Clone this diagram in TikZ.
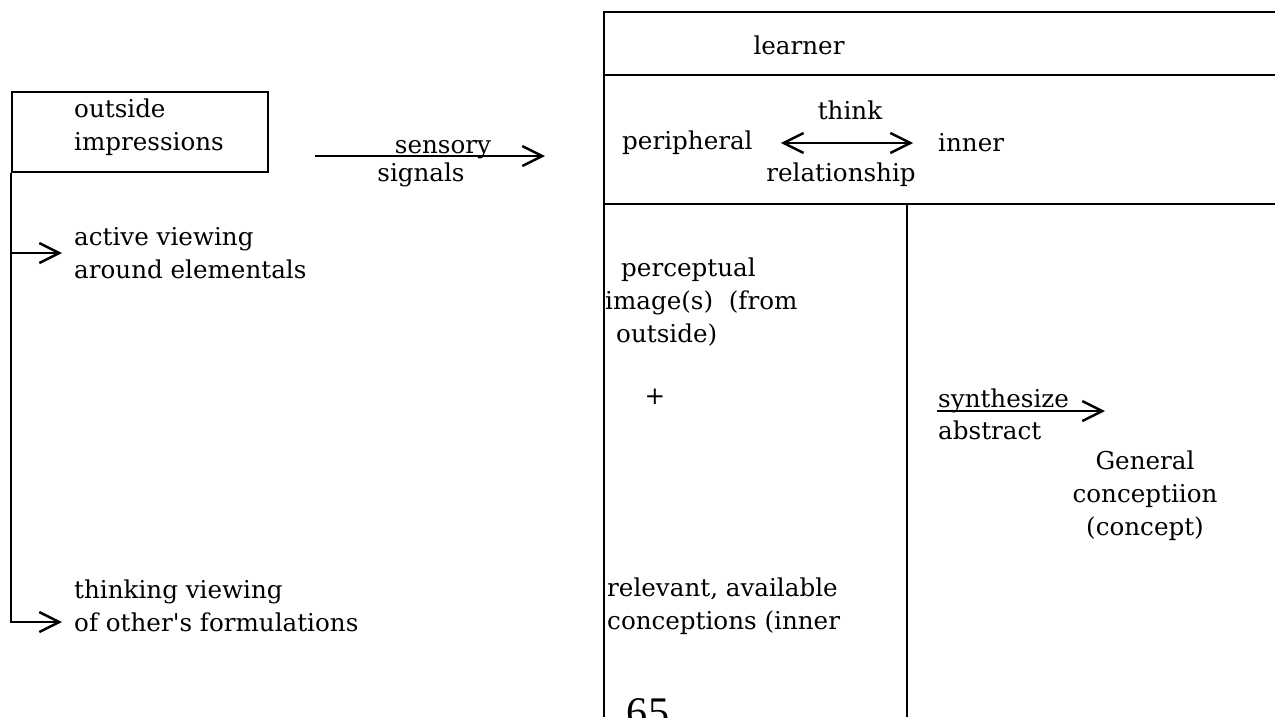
\documentclass[tikz,border=0pt]{standalone}
\usepackage{fontspec}
\setmainfont{DejaVu Serif}
\newfontfamily\pagefont{Liberation Serif}
\usetikzlibrary{arrows.meta}
\tikzset{
  txt/.style={font=\fontsize{14}{18.7}\selectfont, inner sep=0pt},
}

\begin{document}
\begin{tikzpicture}[x=0.02cm,y=-0.02cm,line width=1.4pt,
    >={Straight Barb[length=4mm,width=4mm]}]
     \useasboundingbox (0,0) rectangle (1275,717);

     % outside
     \node[draw,minimum width=5.12cm,minimum height=1.6cm,inner sep=0pt] (outbox) at (140,132) {};
     \node[txt,align=left,anchor=west] (outtxt) at (73,127) {outside\\impressions};

     \node[txt,align=left,anchor=west] (active) at (73,253) {active viewing\\around elementals};
     \node[txt,align=left,anchor=west] (thinking) at (73,606) {thinking viewing\\of other\textquotesingle s formulations};

     \coordinate (activeend) at (62,253);
     \coordinate (thinkingend) at (62,622);
     \draw[->] (outbox.south west) |- (thinkingend);
     \draw[->] (outbox.south west |- activeend) -- (activeend);

     % sensory signals
     \coordinate (sensfrom) at (315,156);
     \coordinate (sensto) at (545,156);
     \draw[->] (sensfrom) -- (sensto);
     \node[txt,anchor=base] (sensory) at (443,153) {sensory};
     \node[txt] (signals) at (421,175) {signals};

     % learner
     \draw (1275,12) -- (604,12) -- (604,717);
     \draw (604,75) -- (1275,75);
     \draw (604,204) -- (1275,204);
     \draw (907,204) -- (907,717);

     \node[txt] (learner) at (799,45) {learner};

     \node[txt,anchor=west] (peri) at (621,143) {peripheral};
     \node[txt,anchor=west] (inner) at (937,143) {inner};
     \draw[<->,shorten <=0.54cm,shorten >=0.48cm] (peri) -- (inner);
     \node[txt] (think) at (850,110) {think};
     \node[txt] (relation) at (841,175) {relationship};

     \node[txt,align=left,anchor=west] (percept) at (604,302)
         {\hspace*{0.32cm}perceptual\\image(s)\ \ (from\\\hspace*{0.22cm}outside)};
     \node[txt] (plus) at (655,397) {+};
     \node[txt,align=left,anchor=west] (relevant) at (606,606)
         {relevant, available\\conceptions (inner};

     \node[txt,anchor=base west] (synth) at (937,407) {synthesize};
     \node[txt,anchor=west] (abstr) at (937,430) {abstract};
     \coordinate (synfrom) at (937,411);
     \coordinate (synto) at (1105,411);
     \draw[->] (synfrom) -- (synto);

     \node[txt,align=center] (general) at (1145,496) {General\\conceptiion\\(concept)};

     \node[font=\pagefont\fontsize{24}{28}\selectfont,anchor=base,inner sep=0pt] (pagenum) at (648,726) {65};
\end{tikzpicture}
\end{document}
